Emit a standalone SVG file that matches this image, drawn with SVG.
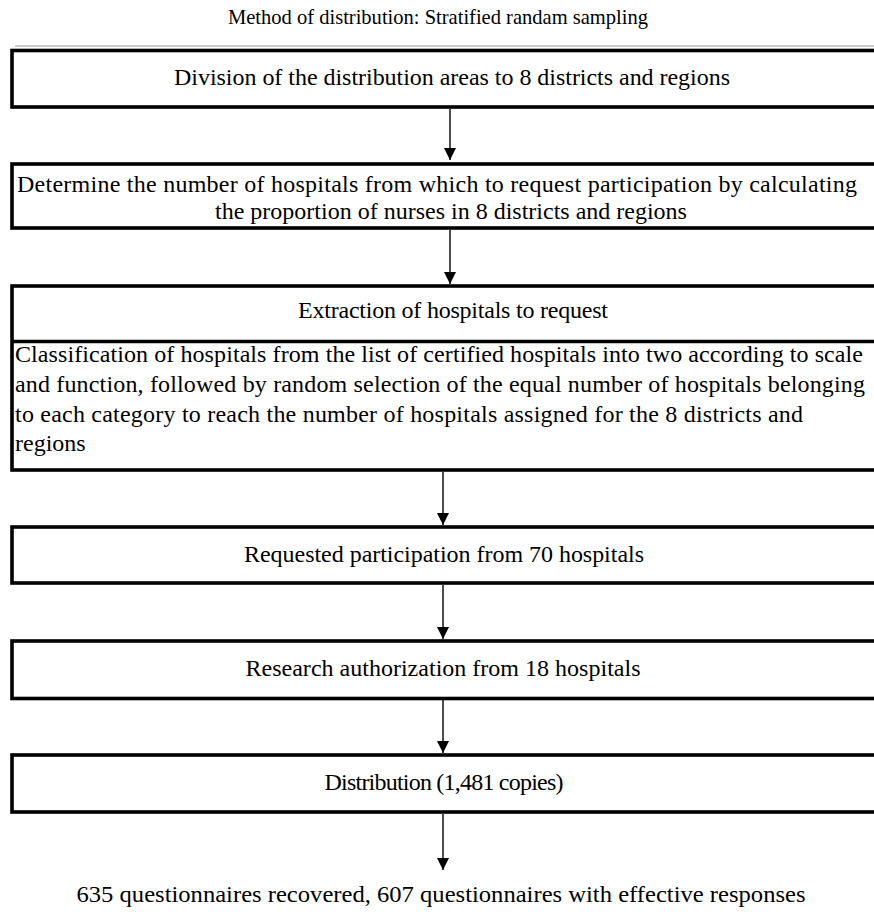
<svg xmlns="http://www.w3.org/2000/svg" width="874" height="922" viewBox="0 0 874 922">
<style>
.box{fill:#fff;stroke:#000;stroke-width:3.6}
.t{font-family:"Liberation Serif","Times New Roman",serif;font-size:24px;fill:#000}
.s{font-size:21px}
.c{text-anchor:middle}
.ln{stroke:#000;stroke-width:1.4;fill:none}
</style>
<defs>
<marker id="ah" markerWidth="14" markerHeight="12" refX="14" refY="7" orient="auto" markerUnits="userSpaceOnUse" viewBox="0 0 14 14">
<path d="M0,0 L14,7 L0,14 Z" fill="#000"/>
</marker>
</defs>
<text class="t s c" x="438" y="24" textLength="420" lengthAdjust="spacingAndGlyphs">Method of distribution: Stratified randam sampling</text>
<g id="n1">
<line x1="15" y1="46" x2="874" y2="46" stroke="#bbb" stroke-width="1.5"/>
<rect class="box" x="12" y="50.5" width="880" height="56.5"/>
<text class="t c" x="452" y="85" textLength="556" lengthAdjust="spacing">Division of the distribution areas to 8 districts and regions</text>
</g>
<g id="n2">
<rect class="box" x="12" y="164" width="880" height="64"/>
<text class="t" x="17" y="192" textLength="840" lengthAdjust="spacing">Determine the number of hospitals from which to request participation by calculating</text>
<text class="t c" x="451" y="219">the proportion of nurses in 8 districts and regions</text>
</g>
<g id="n3">
<rect class="box" x="12" y="286" width="880" height="184"/>
<line x1="12" y1="341.5" x2="874" y2="341.5" stroke="#000" stroke-width="3.6"/>
<text class="t c" x="453" y="318" textLength="310" lengthAdjust="spacing">Extraction of hospitals to request</text>
<text class="t" x="15" y="362" textLength="848" lengthAdjust="spacing">Classification of hospitals from the list of certified hospitals into two according to scale</text>
<text class="t" x="15" y="392" textLength="850" lengthAdjust="spacing">and function, followed by random selection of the equal number of hospitals belonging</text>
<text class="t" x="15" y="422" textLength="788" lengthAdjust="spacing">to each category to reach the number of hospitals assigned for the 8 districts and</text>
<text class="t" x="15" y="451">regions</text>
</g>
<g id="n4">
<rect class="box" x="12" y="527" width="880" height="56"/>
<text class="t c" x="444" y="562" textLength="400" lengthAdjust="spacing">Requested participation from 70 hospitals</text>
</g>
<g id="n5">
<rect class="box" x="12" y="641" width="880" height="57.5"/>
<text class="t c" x="443" y="676" textLength="395" lengthAdjust="spacing">Research authorization from 18 hospitals</text>
</g>
<g id="n6">
<rect class="box" x="12" y="755" width="880" height="57"/>
<text class="t c" x="444" y="790" textLength="239" lengthAdjust="spacing">Distribution (1,481 copies)</text>
</g>
<g id="n7">
<text class="t c" x="441" y="902" textLength="729" lengthAdjust="spacingAndGlyphs">635 questionnaires recovered, 607 questionnaires with effective responses</text>
</g>
<g id="connectors">
<line class="ln" x1="450" y1="109" x2="450" y2="160" marker-end="url(#ah)"/>
<line class="ln" x1="450" y1="230" x2="450" y2="284" marker-end="url(#ah)"/>
<line class="ln" x1="443" y1="472" x2="443" y2="525" marker-end="url(#ah)"/>
<line class="ln" x1="443" y1="585" x2="443" y2="639" marker-end="url(#ah)"/>
<line class="ln" x1="443" y1="700" x2="443" y2="753" marker-end="url(#ah)"/>
<line class="ln" x1="443" y1="814" x2="443" y2="870" marker-end="url(#ah)"/>
</g>
</svg>
